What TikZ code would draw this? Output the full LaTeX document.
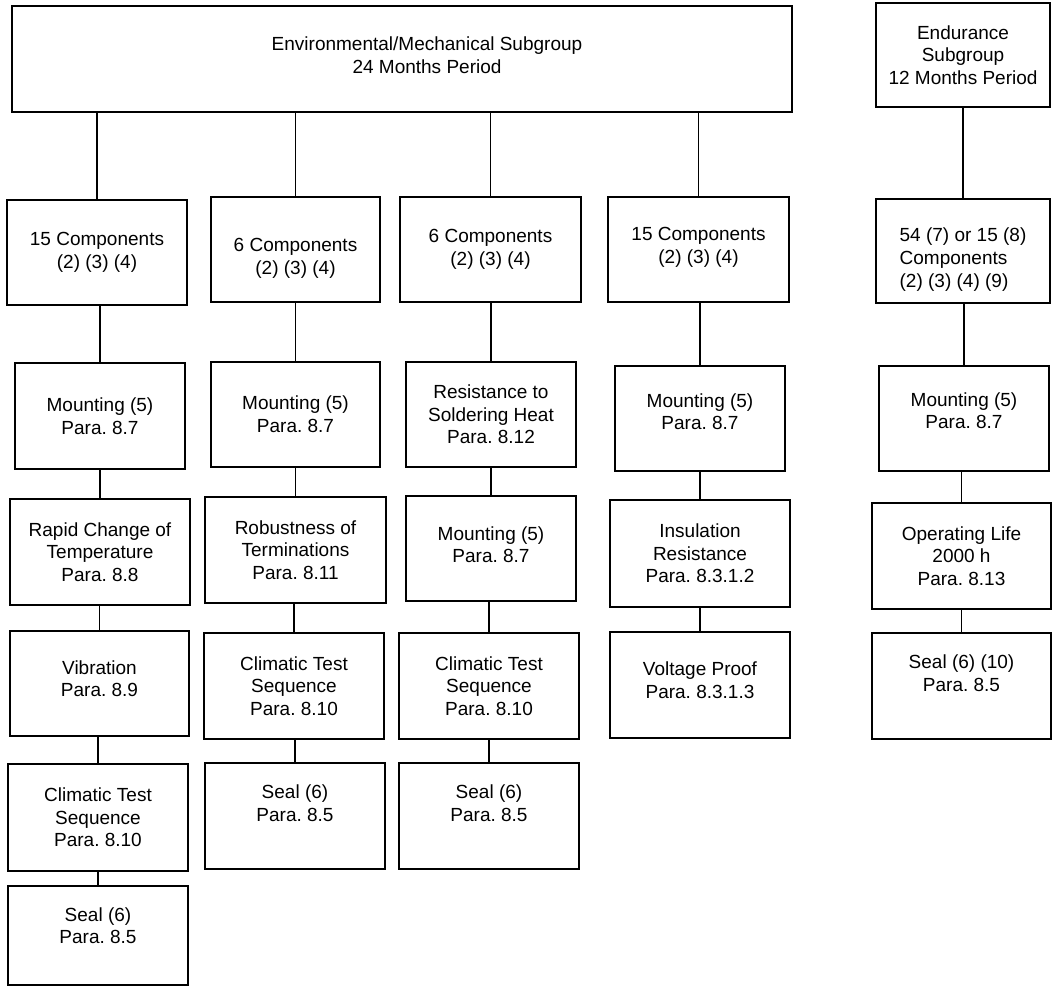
\documentclass[tikz,border=0pt]{standalone}
\usepackage{fontspec}
\setmainfont{Liberation Sans}
\begin{document}
\frenchspacing
\begin{tikzpicture}[x=0.5pt,y=-0.5pt,
    font=\fontsize{9.5}{11.3}\selectfont,
    box/.style 2 args={draw, line width=0.9pt, align=center, inner sep=0pt,
        minimum width=#1, minimum height=#2},
    lift/.style={text depth=#1},
    sink/.style={text height=#1},
    link/.style={line width=0.9pt}]
    \useasboundingbox (0,0) rectangle (1052,988);

    % Subgroup heads
    \node[box={390pt}{53pt}, label={[name=envtext, align=center, xshift=12.5pt, yshift=2pt]center:Environmental/Mechanical Subgroup\\24 Months Period}] (env) at (402,59) {};
    \node[box={87pt}{52pt}] (endu) at (963,55) {Endurance\\Subgroup\\12 Months Period};

    % Row 1
    \node[box={90pt}{52.5pt}] (c1r1) at (97,252.5) {15 Components\\(2) (3) (4)};
    \node[box={84.5pt}{52.5pt}, sink=26.5pt] (c2r1) at (295.5,249.5) {6 Components\\(2) (3) (4)};
    \node[box={90.5pt}{52.5pt}] (c3r1) at (490.5,249.5) {6 Components\\(2) (3) (4)};
    \node[box={90.5pt}{52.5pt}, lift=4pt] (c4r1) at (698.5,249.5) {15 Components\\(2) (3) (4)};
    \node[box={87pt}{52pt}, align=left, sink=38pt] (c5r1) at (963,251) {54 (7) or 15 (8)\\Components\\(2) (3) (4) (9)};

    % Row 2
    \node[box={85pt}{53pt}] (c1r2) at (100,416) {Mounting (5)\\Para. 8.7};
    \node[box={84.5pt}{52.5pt}] (c2r2) at (295.5,414.5) {Mounting (5)\\Para. 8.7};
    \node[box={85pt}{52.5pt}] (c3r2) at (491,414.5) {Resistance to\\Soldering Heat\\Para. 8.12};
    \node[box={85pt}{52.5pt}, lift=7pt] (c4r2) at (700,418.5) {Mounting (5)\\Para. 8.7};
    \node[box={85pt}{52.5pt}, lift=8pt] (c5r2) at (964,418.5) {Mounting (5)\\Para. 8.7};

    % Row 3
    \node[box={90pt}{53pt}] (c1r3) at (100,552) {Rapid Change of\\Temperature\\Para. 8.8};
    \node[box={90.5pt}{53pt}] (c2r3) at (295.5,550) {Robustness of\\Terminations\\Para. 8.11};
    \node[box={85pt}{52.5pt}, lift=4pt] (c3r3) at (491,548.5) {Mounting (5)\\Para. 8.7};
    \node[box={90pt}{53.5pt}] (c4r3) at (700,553.5) {Insulation\\Resistance\\Para. 8.3.1.2};
    \node[box={89.5pt}{53pt}] (c5r3) at (961.5,556) {Operating Life\\2000 h\\Para. 8.13};

    % Row 4
    \node[box={89.5pt}{52.5pt}, lift=5pt] (c1r4) at (99.5,683.5) {Vibration\\Para. 8.9};
    \node[box={90pt}{53pt}] (c2r4) at (294,686) {Climatic Test\\Sequence\\Para. 8.10};
    \node[box={90pt}{53pt}] (c3r4) at (489,686) {Climatic Test\\Sequence\\Para. 8.10};
    \node[box={90pt}{53pt}, lift=5pt] (c4r4) at (700,685) {Voltage Proof\\Para. 8.3.1.3};
    \node[box={89.5pt}{53pt}, lift=13pt] (c5r4) at (961.5,686) {Seal (6) (10)\\Para. 8.5};

    % Row 5 and 6
    \node[box={90pt}{53.5pt}] (c1r5) at (98,817.5) {Climatic Test\\Sequence\\Para. 8.10};
    \node[box={90pt}{53pt}, lift=13pt] (c2r5) at (295,816) {Seal (6)\\Para. 8.5};
    \node[box={90pt}{53pt}, lift=13pt] (c3r5) at (489,816) {Seal (6)\\Para. 8.5};
    \node[box={90pt}{49.5pt}, lift=10pt] (c1r6) at (98,935.5) {Seal (6)\\Para. 8.5};

    % Connectors
    \foreach \a/\b in {env/c1r1, env/c2r1, env/c3r1, env/c4r1, endu/c5r1,
        c1r1/c1r2, c2r1/c2r2, c3r1/c3r2, c4r1/c4r2, c5r1/c5r2,
        c1r2/c1r3, c2r2/c2r3, c3r2/c3r3, c4r2/c4r3, c5r2/c5r3,
        c1r3/c1r4, c2r3/c2r4, c3r3/c3r4, c4r3/c4r4, c5r3/c5r4,
        c1r4/c1r5, c2r4/c2r5, c3r4/c3r5, c1r5/c1r6}
        \draw[link] (\b.north |- \a.south) -- (\b.north);
\end{tikzpicture}
\end{document}
